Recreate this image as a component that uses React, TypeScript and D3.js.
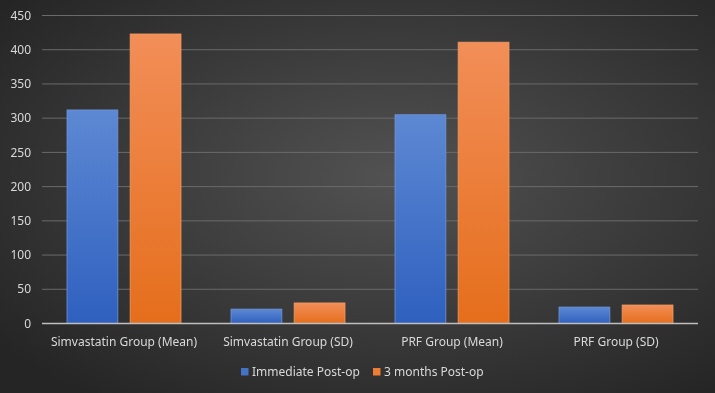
import React from "react";
import * as d3 from "d3";

const categories = ["Simvastatin Group (Mean)", "Simvastatin Group (SD)", "PRF Group (Mean)", "PRF Group (SD)"];
const seriesNames = ["Immediate Post-op", "3 months Post-op"];
const immediate = [312, 21, 305, 24];
const threeMonths = [423, 30, 411, 27];
const yTicks = [0, 50, 100, 150, 200, 250, 300, 350, 400, 450];

const W = 715, H = 393;
const margin = { left: 42, right: 17, top: 15.5, bottom: 69.5 };

export default function App() {
  const x0 = d3.scaleBand().domain(categories).range([margin.left, W - margin.right]).paddingInner(0).paddingOuter(0);
  const y = d3.scaleLinear().domain([0, 450]).range([H - margin.bottom, margin.top]);
  const step = x0.bandwidth();
  const barW = step * 0.31;
  const gap = step * 0.075;
  const series = [immediate, threeMonths];
  const fills = ["url(#gBlue)", "url(#gOrange)"];
  const strokes = ["#6f95d8", "#f49a62"];
  const legendColors = ["#4472c4", "#ed7d31"];
  const font = "'Noto Sans', 'Open Sans', sans-serif";
  return (
    <svg width={W} height={H} style={{ display: "block", position: "fixed", left: 0, top: 0 }}>
      <defs>
        <radialGradient id="bg" cx="55%" cy="45%" r="70%">
          <stop offset="0%" stopColor="#525252" />
          <stop offset="100%" stopColor="#252525" />
        </radialGradient>
        <linearGradient id="gBlue" x1="0" y1="0" x2="0" y2="1">
          <stop offset="0%" stopColor="#5d88d3" />
          <stop offset="100%" stopColor="#2f60bf" />
        </linearGradient>
        <linearGradient id="gOrange" x1="0" y1="0" x2="0" y2="1">
          <stop offset="0%" stopColor="#f28e58" />
          <stop offset="100%" stopColor="#e56e1c" />
        </linearGradient>
      </defs>
      <rect x={0} y={0} width={W} height={H} fill="url(#bg)" />
      {yTicks.map((t) => (
        <g key={t}>
          {t > 0 && (
            <line x1={margin.left} x2={W - margin.right} y1={y(t)} y2={y(t)} stroke="#6a6a6a" strokeWidth={1} />
          )}
          <text x={31} y={y(t)} dy="0.35em" textAnchor="end" fill="#d9d9d9" fontSize={12} fontFamily={font}>
            {t}
          </text>
        </g>
      ))}
      {categories.map((c, i) => {
        const cx = (x0(c) as number) + step / 2;
        return (
          <g key={c}>
            {series.map((s, k) => {
              const bx = k === 0 ? cx - gap / 2 - barW : cx + gap / 2;
              return (
                <rect
                  key={k}
                  x={bx}
                  y={y(s[i])}
                  width={barW}
                  height={y(0) - y(s[i])}
                  fill={fills[k]}
                  stroke={strokes[k]}
                  strokeWidth={0.8}
                />
              );
            })}
            <text x={cx} y={342} dy="0.35em" textAnchor="middle" fill="#d9d9d9" fontSize={12} fontFamily={font}>
              {c}
            </text>
          </g>
        );
      })}
      <line x1={margin.left} x2={W - margin.right} y1={y(0)} y2={y(0)} stroke="#bfbfbf" strokeWidth={1.5} />
      {seriesNames.map((n, k) => {
        const lx = k === 0 ? 241 : 373;
        return (
          <g key={n}>
            <rect x={lx} y={368} width={7.5} height={7.5} fill={legendColors[k]} />
            <text x={lx + 11} y={372} dy="0.35em" fill="#d9d9d9" fontSize={12} fontFamily={font}>
              {n}
            </text>
          </g>
        );
      })}
    </svg>
  );
}
